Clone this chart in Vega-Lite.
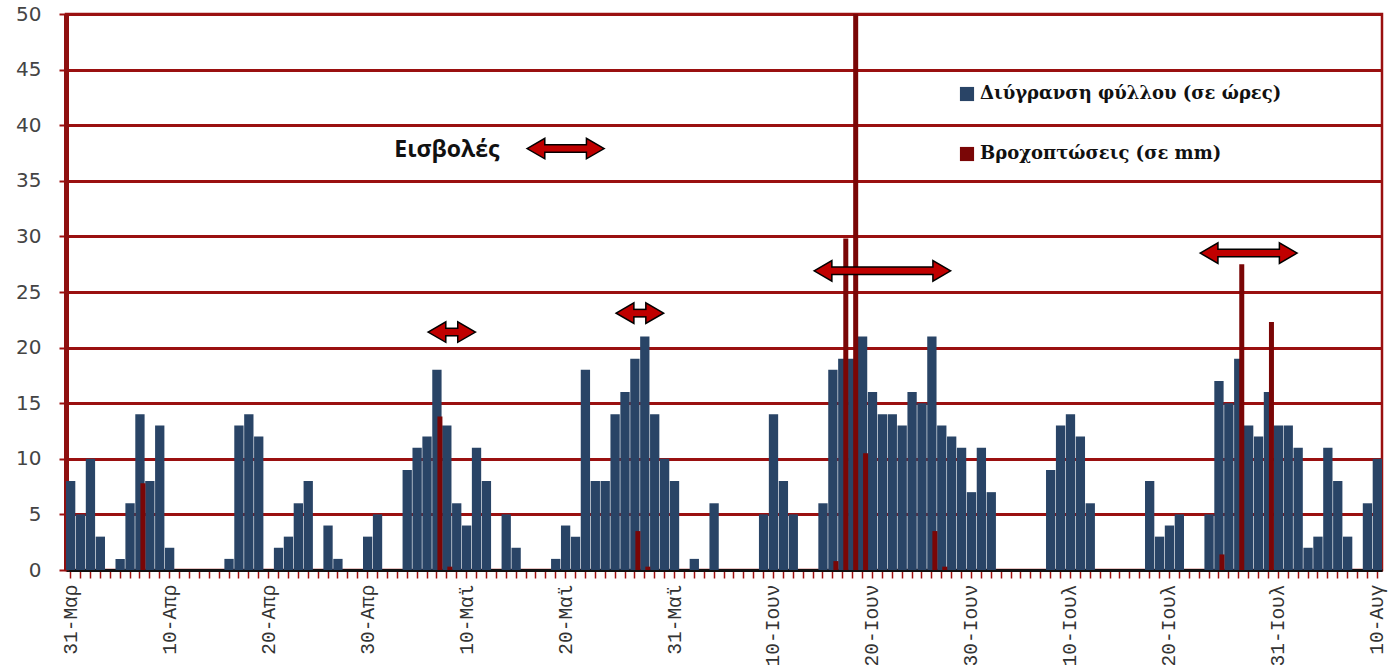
{
  "$schema": "https://vega.github.io/schema/vega-lite/v6.json",
  "width": 1316,
  "height": 556,
  "autosize": {"type": "none"},
  "padding": {"left": 66, "top": 14, "right": 12, "bottom": 95},
  "background": "white",
  "config": {
    "view": {"stroke": "#9a1010", "strokeWidth": 2.5},
    "axis": {"title": null}
  },
  "datasets": {
    "arrows": [
      {"start": "2013-05-17", "end": "2013-05-23", "y": 37.9},
      {"start": "2013-05-07", "end": "2013-05-10", "y": 21.4},
      {"start": "2013-05-26", "end": "2013-05-29", "y": 23.1},
      {"start": "2013-06-15", "end": "2013-06-27", "y": 26.9},
      {"start": "2013-07-24", "end": "2013-08-01", "y": 28.5}
    ]
  },
  "data": {"values": [
    {"date": "2013-03-31", "w": 8},
    {"date": "2013-04-01", "w": 5},
    {"date": "2013-04-02", "w": 10},
    {"date": "2013-04-03", "w": 3},
    {"date": "2013-04-04", "w": 0},
    {"date": "2013-04-05", "w": 1},
    {"date": "2013-04-06", "w": 6},
    {"date": "2013-04-07", "w": 14, "r": 7.8},
    {"date": "2013-04-08", "w": 8},
    {"date": "2013-04-09", "w": 13},
    {"date": "2013-04-10", "w": 2},
    {"date": "2013-04-11", "w": 0},
    {"date": "2013-04-12", "w": 0},
    {"date": "2013-04-13", "w": 0},
    {"date": "2013-04-14", "w": 0},
    {"date": "2013-04-15", "w": 0},
    {"date": "2013-04-16", "w": 1},
    {"date": "2013-04-17", "w": 13},
    {"date": "2013-04-18", "w": 14},
    {"date": "2013-04-19", "w": 12},
    {"date": "2013-04-20", "w": 0},
    {"date": "2013-04-21", "w": 2},
    {"date": "2013-04-22", "w": 3},
    {"date": "2013-04-23", "w": 6},
    {"date": "2013-04-24", "w": 8},
    {"date": "2013-04-25", "w": 0},
    {"date": "2013-04-26", "w": 4},
    {"date": "2013-04-27", "w": 1},
    {"date": "2013-04-28", "w": 0},
    {"date": "2013-04-29", "w": 0},
    {"date": "2013-04-30", "w": 3},
    {"date": "2013-05-01", "w": 5},
    {"date": "2013-05-02", "w": 0},
    {"date": "2013-05-03", "w": 0},
    {"date": "2013-05-04", "w": 9},
    {"date": "2013-05-05", "w": 11},
    {"date": "2013-05-06", "w": 12},
    {"date": "2013-05-07", "w": 18, "r": 13.8},
    {"date": "2013-05-08", "w": 13, "r": 0.3},
    {"date": "2013-05-09", "w": 6},
    {"date": "2013-05-10", "w": 4},
    {"date": "2013-05-11", "w": 11},
    {"date": "2013-05-12", "w": 8},
    {"date": "2013-05-13", "w": 0},
    {"date": "2013-05-14", "w": 5},
    {"date": "2013-05-15", "w": 2},
    {"date": "2013-05-16", "w": 0},
    {"date": "2013-05-17", "w": 0},
    {"date": "2013-05-18", "w": 0},
    {"date": "2013-05-19", "w": 1},
    {"date": "2013-05-20", "w": 4},
    {"date": "2013-05-21", "w": 3},
    {"date": "2013-05-22", "w": 18},
    {"date": "2013-05-23", "w": 8},
    {"date": "2013-05-24", "w": 8},
    {"date": "2013-05-25", "w": 14},
    {"date": "2013-05-26", "w": 16},
    {"date": "2013-05-27", "w": 19, "r": 3.5},
    {"date": "2013-05-28", "w": 21, "r": 0.3},
    {"date": "2013-05-29", "w": 14},
    {"date": "2013-05-30", "w": 10},
    {"date": "2013-05-31", "w": 8},
    {"date": "2013-06-01", "w": 0},
    {"date": "2013-06-02", "w": 1},
    {"date": "2013-06-03", "w": 0},
    {"date": "2013-06-04", "w": 6},
    {"date": "2013-06-05", "w": 0},
    {"date": "2013-06-06", "w": 0},
    {"date": "2013-06-07", "w": 0},
    {"date": "2013-06-08", "w": 0},
    {"date": "2013-06-09", "w": 5},
    {"date": "2013-06-10", "w": 14},
    {"date": "2013-06-11", "w": 8},
    {"date": "2013-06-12", "w": 5},
    {"date": "2013-06-13", "w": 0},
    {"date": "2013-06-14", "w": 0},
    {"date": "2013-06-15", "w": 6},
    {"date": "2013-06-16", "w": 18, "r": 0.8},
    {"date": "2013-06-17", "w": 19, "r": 29.8},
    {"date": "2013-06-18", "w": 19, "r": 50},
    {"date": "2013-06-19", "w": 21, "r": 10.5},
    {"date": "2013-06-20", "w": 16},
    {"date": "2013-06-21", "w": 14},
    {"date": "2013-06-22", "w": 14},
    {"date": "2013-06-23", "w": 13},
    {"date": "2013-06-24", "w": 16},
    {"date": "2013-06-25", "w": 15},
    {"date": "2013-06-26", "w": 21, "r": 3.5},
    {"date": "2013-06-27", "w": 13, "r": 0.3},
    {"date": "2013-06-28", "w": 12},
    {"date": "2013-06-29", "w": 11},
    {"date": "2013-06-30", "w": 7},
    {"date": "2013-07-01", "w": 11},
    {"date": "2013-07-02", "w": 7},
    {"date": "2013-07-03", "w": 0},
    {"date": "2013-07-04", "w": 0},
    {"date": "2013-07-05", "w": 0},
    {"date": "2013-07-06", "w": 0},
    {"date": "2013-07-07", "w": 0},
    {"date": "2013-07-08", "w": 9},
    {"date": "2013-07-09", "w": 13},
    {"date": "2013-07-10", "w": 14},
    {"date": "2013-07-11", "w": 12},
    {"date": "2013-07-12", "w": 6},
    {"date": "2013-07-13", "w": 0},
    {"date": "2013-07-14", "w": 0},
    {"date": "2013-07-15", "w": 0},
    {"date": "2013-07-16", "w": 0},
    {"date": "2013-07-17", "w": 0},
    {"date": "2013-07-18", "w": 8},
    {"date": "2013-07-19", "w": 3},
    {"date": "2013-07-20", "w": 4},
    {"date": "2013-07-21", "w": 5},
    {"date": "2013-07-22", "w": 0},
    {"date": "2013-07-23", "w": 0},
    {"date": "2013-07-24", "w": 5},
    {"date": "2013-07-25", "w": 17, "r": 1.4},
    {"date": "2013-07-26", "w": 15},
    {"date": "2013-07-27", "w": 19, "r": 27.5},
    {"date": "2013-07-28", "w": 13},
    {"date": "2013-07-29", "w": 12},
    {"date": "2013-07-30", "w": 16, "r": 22.3},
    {"date": "2013-07-31", "w": 13},
    {"date": "2013-08-01", "w": 13},
    {"date": "2013-08-02", "w": 11},
    {"date": "2013-08-03", "w": 2},
    {"date": "2013-08-04", "w": 3},
    {"date": "2013-08-05", "w": 11},
    {"date": "2013-08-06", "w": 8},
    {"date": "2013-08-07", "w": 3},
    {"date": "2013-08-08", "w": 0},
    {"date": "2013-08-09", "w": 6},
    {"date": "2013-08-10", "w": 10}
  ]},
  "encoding": {
    "x": {
      "field": "date",
      "type": "ordinal",
      "timeUnit": "utcyearmonthdate",
      "scale": {"paddingInner": 0.06, "paddingOuter": 0},
      "axis": {
        "labelAngle": 270,
        "labelAlign": "right",
        "labelBaseline": "middle",
        "labelOverlap": false,
        "labelPadding": 6,
        "labelFont": "Liberation Mono",
        "labelFontSize": 19.5,
        "labelColor": "#333333",
        "domainColor": "#111111",
        "domainWidth": 3,
        "tickColor": "#a01010",
        "tickSize": 8,
        "tickWidth": 1.5,
        "grid": false,
        "labelExpr": "(utcdate(time(datum.value))==10 || utcdate(time(datum.value))==20 || utcdate(time(datum.value)+86400000)==1) ? utcdate(time(datum.value)) + '-' + ['Ιαν','Φεβ','Μαρ','Απρ','Μαϊ','Ιουν','Ιουλ','Αυγ','Σεπ','Οκτ','Νοε','Δεκ'][utcmonth(time(datum.value))] : ''"
      }
    }
  },
  "layer": [
    {
      "mark": {"type": "bar"},
      "encoding": {
        "y": {
          "field": "w",
          "type": "quantitative",
          "scale": {"domain": [0, 50], "nice": false},
          "axis": {
            "values": [0, 5, 10, 15, 20, 25, 30, 35, 40, 45, 50],
            "labelFont": "DejaVu Sans",
            "labelFontSize": 20,
            "labelColor": "#444444",
            "labelPadding": 18,
            "tickColor": "#a01010",
            "tickSize": 7,
            "tickWidth": 2,
            "domainColor": "#8f1010",
            "domainWidth": 5,
            "gridColor": "#9a1010",
            "gridWidth": 3,
            "gridOpacity": 1
          }
        },
        "color": {
          "datum": "Διύγρανση φύλλου (σε ώρες)",
          "type": "nominal",
          "scale": {
            "domain": ["Διύγρανση φύλλου (σε ώρες)", "Βροχοπτώσεις (σε mm)"],
            "range": ["#294466", "#7a0606"]
          },
          "legend": {
            "title": null,
            "orient": "none",
            "legendX": 892,
            "legendY": 71,
            "symbolType": "square",
            "symbolSize": 200,
            "symbolStrokeWidth": 0,
            "labelFont": "DejaVu Serif",
            "labelFontWeight": "bold",
            "labelFontSize": 18,
            "labelColor": "#111111",
            "labelOffset": 4,
            "rowPadding": 42,
            "labelLimit": 500
          }
        }
      }
    },
    {
      "mark": {"type": "bar", "width": 5, "xOffset": 3},
      "encoding": {
        "y": {"field": "r", "type": "quantitative"},
        "color": {"datum": "Βροχοπτώσεις (σε mm)", "type": "nominal"}
      }
    },
    {
      "data": {"name": "arrows"},
      "mark": {"type": "rule", "color": "#000000", "strokeWidth": 9, "strokeCap": "butt"},
      "encoding": {
        "x": {"field": "start", "type": "ordinal", "timeUnit": "utcyearmonthdate"},
        "x2": {"field": "end", "timeUnit": "utcyearmonthdate"},
        "y": {"field": "y", "type": "quantitative"}
      }
    },
    {
      "data": {"name": "arrows"},
      "mark": {"type": "point", "shape": "triangle-left", "filled": true, "fill": "#c00000", "stroke": "#000000", "strokeWidth": 1.5, "size": 420, "opacity": 1},
      "encoding": {
        "x": {"field": "start", "type": "ordinal", "timeUnit": "utcyearmonthdate"},
        "y": {"field": "y", "type": "quantitative"}
      }
    },
    {
      "data": {"name": "arrows"},
      "mark": {"type": "point", "shape": "triangle-right", "filled": true, "fill": "#c00000", "stroke": "#000000", "strokeWidth": 1.5, "size": 420, "opacity": 1},
      "encoding": {
        "x": {"field": "end", "type": "ordinal", "timeUnit": "utcyearmonthdate"},
        "y": {"field": "y", "type": "quantitative"}
      }
    },
    {
      "data": {"name": "arrows"},
      "mark": {"type": "rule", "color": "#c00000", "strokeWidth": 6, "strokeCap": "butt"},
      "encoding": {
        "x": {"field": "start", "type": "ordinal", "timeUnit": "utcyearmonthdate"},
        "x2": {"field": "end", "timeUnit": "utcyearmonthdate"},
        "y": {"field": "y", "type": "quantitative"}
      }
    },
    {
      "data": {"values": [{"date": "2013-05-08", "label": "Εισβολές", "y": 37.8}]},
      "mark": {"type": "text", "font": "Open Sans", "fontWeight": "bold", "fontSize": 23, "color": "#111111", "align": "center", "baseline": "middle"},
      "encoding": {
        "y": {"field": "y", "type": "quantitative"},
        "text": {"field": "label"}
      }
    }
  ]
}
